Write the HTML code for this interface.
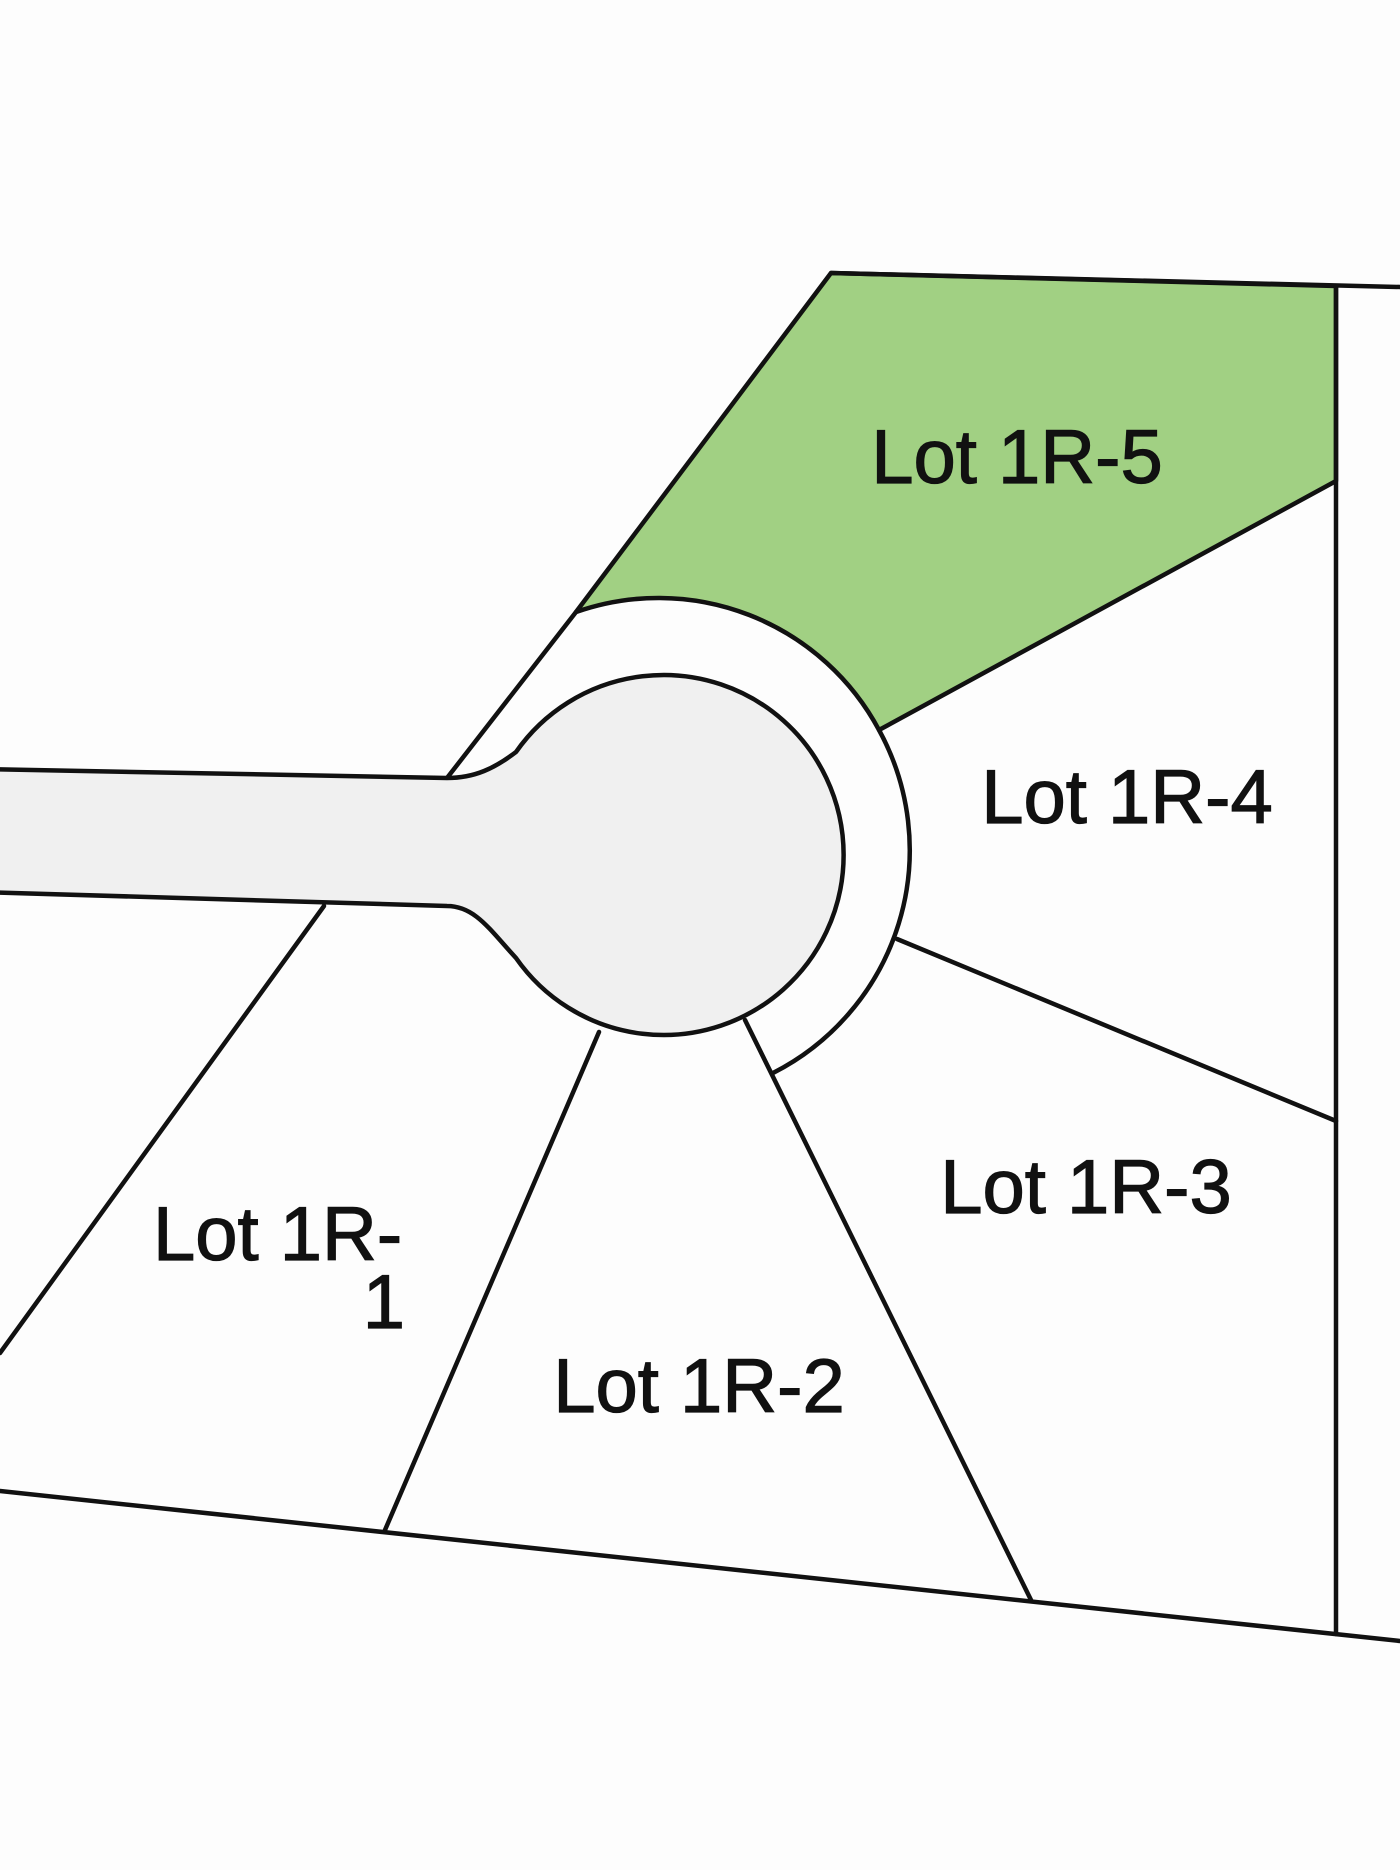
<!DOCTYPE html>
<html><head><meta charset="utf-8"><style>
html,body{margin:0;padding:0;background:#fdfdfd;}
svg{display:block;}
text{font-family:"Liberation Sans",sans-serif;font-size:76px;fill:#111;stroke:#111;stroke-width:1.2px;}
</style></head><body>
<svg width="1400" height="1870" viewBox="0 0 1400 1870" xmlns="http://www.w3.org/2000/svg">
<rect width="1400" height="1870" fill="#fdfdfd"/>
<path d="M831,273 L1336,286 L1336,481 L879,730 A250,250 0 0 0 576,612 Z" fill="#a1d083" stroke="#111" stroke-width="4.5" stroke-linejoin="round"/>
<g stroke="#111" stroke-width="4.5" fill="none" stroke-linecap="round">
<line x1="831" y1="273" x2="1400" y2="287"/>
<line x1="1336" y1="287" x2="1336" y2="1634"/>
<line x1="0" y1="1491" x2="1400" y2="1641"/>
<line x1="576" y1="612" x2="447" y2="778"/>
<line x1="324" y1="906" x2="0" y2="1353"/>
<line x1="599" y1="1032" x2="385" y2="1530"/>
<line x1="745" y1="1020" x2="1031" y2="1600"/>
<line x1="897" y1="939" x2="1336" y2="1121"/>
<path d="M879,730 A250,250 0 0 1 773,1073"/>
</g>
<path d="M-20,769 L447,778 C475,778 495,768 516,752 A180,180 0 1 1 516,958 C490,930 475,906 447,906 L-20,892 Z" fill="#f0f0f0" stroke="#111" stroke-width="4.5" stroke-linejoin="round"/>
<text x="1017" y="483" text-anchor="middle">Lot 1R-5</text>
<text x="1127" y="823" text-anchor="middle">Lot 1R-4</text>
<text x="1086" y="1213" text-anchor="middle">Lot 1R-3</text>
<text x="699" y="1412" text-anchor="middle">Lot 1R-2</text>
<text x="153" y="1260">Lot 1R-</text>
<text x="405" y="1328" text-anchor="end">1</text>
</svg>
</body></html>
